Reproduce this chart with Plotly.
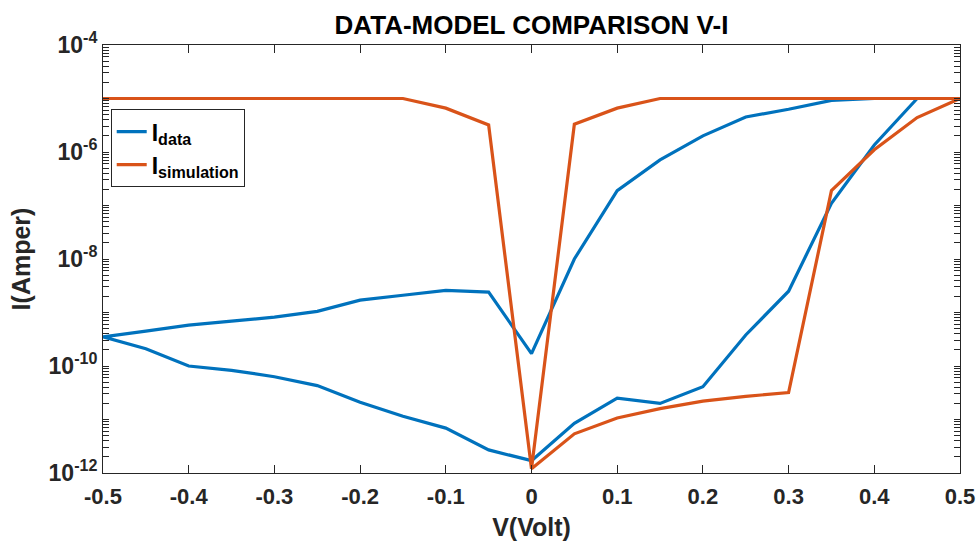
import plotly.graph_objects as go

# Voltage sweep: 0 -> 0.5 -> 0 -> -0.5 -> 0
voltage = [0.0, 0.05, 0.1, 0.15, 0.2, 0.25, 0.3, 0.35, 0.4, 0.45, 0.5,
           0.45, 0.4, 0.35, 0.3, 0.25, 0.2, 0.15, 0.1, 0.05, 0.0,
           -0.05, -0.1, -0.15, -0.2, -0.25, -0.3, -0.35, -0.4, -0.45, -0.5,
           -0.45, -0.4, -0.35, -0.3, -0.25, -0.2, -0.15, -0.1, -0.05, 0.0]

i_data = [1.7e-12, 8.5e-12, 2.5e-11, 2.0e-11, 4.1e-11, 3.8e-10, 2.5e-9, 1.1e-7, 1.35e-6, 1e-5, 1e-5,
          1e-5, 1e-5, 9.2e-6, 6.3e-6, 4.5e-6, 2.0e-6, 7.1e-7, 1.9e-7, 1.0e-8, 1.7e-10,
          2.4e-9, 2.6e-9, 2.1e-9, 1.7e-9, 1.05e-9, 8.2e-10, 6.9e-10, 5.8e-10, 4.5e-10, 3.5e-10,
          2.1e-10, 1.0e-10, 8.3e-11, 6.3e-11, 4.3e-11, 2.1e-11, 1.15e-11, 6.9e-12, 2.7e-12, 1.7e-12]

i_sim = [1.2e-12, 5.4e-12, 1.07e-11, 1.6e-11, 2.2e-11, 2.7e-11, 3.2e-11, 1.9e-7, 1.1e-6, 4.4e-6, 1e-5,
         1e-5, 1e-5, 1e-5, 1e-5, 1e-5, 1e-5, 1e-5, 6.6e-6, 3.3e-6, 1.2e-12,
         3.2e-6, 6.6e-6, 1e-5, 1e-5, 1e-5, 1e-5, 1e-5, 1e-5, 1e-5, 1e-5,
         1e-5, 1e-5, 1e-5, 1e-5, 1e-5, 1e-5, 1e-5, 6.6e-6, 3.2e-6, 1.2e-12]

x_ticks = [-0.5, -0.4, -0.3, -0.2, -0.1, 0, 0.1, 0.2, 0.3, 0.4, 0.5]
x_ticktext = ["-0.5", "-0.4", "-0.3", "-0.2", "-0.1", "0", "0.1", "0.2", "0.3", "0.4", "0.5"]
y_decades = list(range(-12, -3))
y_labeled = {-12: "10<sup>-12</sup>", -10: "10<sup>-10</sup>", -8: "10<sup>-8</sup>",
             -6: "10<sup>-6</sup>", -4: "10<sup>-4</sup>"}

y_tickvals, y_ticktext = [], []
for n in y_decades:
    for k in (range(1, 10) if n < -4 else [1]):
        y_tickvals.append(k * 10.0 ** n)
        y_ticktext.append(y_labeled.get(n, "") if k == 1 else "")

FONT = "Arial, Liberation Sans, Helvetica, sans-serif"
AX = "#262626"

fig = go.Figure()
fig.add_trace(go.Scatter(x=voltage, y=i_data, mode="lines", name="<b>I<sub>data</sub></b>",
                         line=dict(color="#0072BD", width=3.2)))
fig.add_trace(go.Scatter(x=voltage, y=i_sim, mode="lines", name="<b>I<sub>simulation</sub></b>",
                         line=dict(color="#D95319", width=3.2)))

fig.update_layout(
    width=979, height=543,
    margin=dict(l=103, r=19, t=45, b=70),
    paper_bgcolor="white", plot_bgcolor="white",
    font=dict(family=FONT, color=AX),
    title=dict(text="<b>DATA-MODEL COMPARISON V-I</b>", x=0.5, xref="paper", xanchor="center",
               y=1 - 25 / 543, yref="container", yanchor="middle",
               font=dict(size=26, color="black", family=FONT)),
    showlegend=True,
    legend=dict(x=0.009, y=0.85, xanchor="left", yanchor="top",
                bgcolor="white", bordercolor=AX, borderwidth=1,
                font=dict(size=23, color="black", family=FONT),
                tracegroupgap=0, itemwidth=30),
    xaxis=dict(range=[-0.5, 0.5], tickmode="array", tickvals=x_ticks, ticktext=x_ticktext,
               ticks="inside", ticklen=8, tickwidth=1, tickcolor=AX,
               showline=True, linecolor=AX, linewidth=1, mirror="ticks",
               showgrid=False, zeroline=False, ticklabelstandoff=4, automargin=False,
               tickfont=dict(size=22, color=AX, family=FONT, weight="bold"),
               title=dict(text="<b>V(Volt)</b>", font=dict(size=25, color=AX, family=FONT), standoff=10)),
    yaxis=dict(type="log", range=[-12, -4], tickmode="array", tickvals=y_tickvals, ticktext=y_ticktext,
               ticks="inside", ticklen=6, tickwidth=1, tickcolor=AX,
               showline=True, linecolor=AX, linewidth=1, mirror="ticks",
               showgrid=False, zeroline=False, automargin=False,
               tickfont=dict(size=23, color=AX, family=FONT, weight="bold"),
               title=dict(text="<b>I(Amper)</b>", font=dict(size=25, color=AX, family=FONT), standoff=10)),
)

fig.write_html("out.html")
